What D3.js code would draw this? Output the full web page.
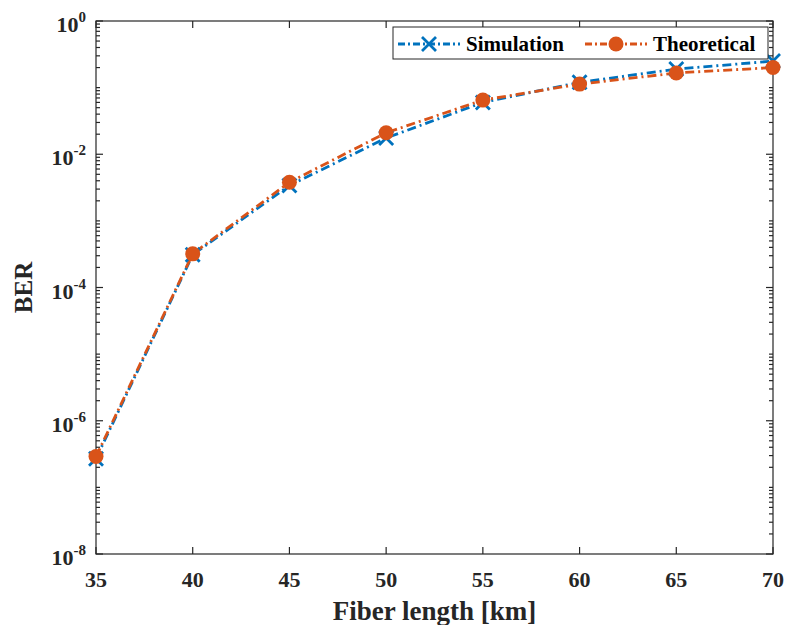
<!DOCTYPE html>
<html>
<head>
<meta charset="utf-8">
<script src="https://cdn.jsdelivr.net/npm/d3@7"></script>
<style>
  html, body { margin: 0; padding: 0; background: #fff; }
  text { font-family: "Liberation Serif", "Times New Roman", "DejaVu Serif", serif; font-weight: bold; }
</style>
</head>
<body>
<svg id="chart" width="788" height="625"></svg>
<script>
// fiber length (km) and BER values
const lengths = [35, 40, 45, 50, 55, 60, 65, 70];
const simulation = [2.7e-7, 3.1e-4, 3.4e-3, 0.0175, 0.060, 0.12, 0.19, 0.25];
const theoretical = [2.9e-7, 3.2e-4, 3.8e-3, 0.021, 0.065, 0.113, 0.166, 0.20];
const xTicks = [35, 40, 45, 50, 55, 60, 65, 70];
const yLabelExps = [0, -2, -4, -6, -8];

const svg = d3.select('#chart');
const margin = { left: 96, right: 15, top: 21, bottom: 71 };
const W = 788, H = 625;
const x0 = margin.left, x1 = W - margin.right, y0 = margin.top, y1 = H - margin.bottom;

const x = d3.scaleLinear().domain([35, 70]).range([x0, x1]);
const y = d3.scaleLog().domain([1e-8, 1]).range([y1, y0]);

const axisColor = '#262626';
const blue = '#0072BD', orange = '#D95319';

// all log ticks (decades + minors)
const logTicks = [];
for (let e = -8; e <= 0; e++) {
  logTicks.push({ v: Math.pow(10, e), major: yLabelExps.includes(e) });
  if (e < 0) for (let m = 2; m <= 9; m++) logTicks.push({ v: m * Math.pow(10, e), major: false });
}

const axes = svg.append('g').attr('stroke', axisColor).attr('stroke-width', 1.2);
axes.append('rect').attr('x', x0).attr('y', y0).attr('width', x1 - x0).attr('height', y1 - y0).attr('fill', 'none');

// y ticks left & right
axes.selectAll('line.yl').data(logTicks).join('line')
  .attr('x1', x0).attr('x2', d => x0 + (d.major ? 7 : 4))
  .attr('y1', d => y(d.v)).attr('y2', d => y(d.v));
axes.selectAll('line.yr').data(logTicks).join('line')
  .attr('x1', x1).attr('x2', d => x1 - (d.major ? 7 : 4))
  .attr('y1', d => y(d.v)).attr('y2', d => y(d.v));

// x ticks bottom & top
axes.selectAll('line.xb').data(xTicks).join('line')
  .attr('x1', d => x(d)).attr('x2', d => x(d))
  .attr('y1', y1).attr('y2', y1 - 7);
axes.selectAll('line.xt').data(xTicks).join('line')
  .attr('x1', d => x(d)).attr('x2', d => x(d))
  .attr('y1', y0).attr('y2', y0 + 7);

// x tick labels
svg.append('g').selectAll('text').data(xTicks).join('text')
  .attr('x', d => x(d)).attr('y', y1 + 33)
  .attr('text-anchor', 'middle')
  .attr('fill', axisColor).attr('font-size', 22)
  .text(d => d);

// y tick labels 10^e
const yl = svg.append('g').selectAll('text').data(yLabelExps).join('text')
  .attr('x', x0 - 10).attr('y', d => y(Math.pow(10, d)) + 11)
  .attr('text-anchor', 'end')
  .attr('fill', axisColor).attr('font-size', 22);
yl.append('tspan').text('10');
yl.append('tspan').attr('dy', -10).attr('font-size', 15).text(d => d);

// axis labels
svg.append('text')
  .attr('x', (x0 + x1) / 2).attr('y', 620)
  .attr('text-anchor', 'middle').attr('fill', axisColor).attr('font-size', 27)
  .text('Fiber length [km]');
svg.append('text')
  .attr('transform', `translate(32,${(y0 + y1) / 2}) rotate(-90)`)
  .attr('text-anchor', 'middle').attr('fill', axisColor).attr('font-size', 25)
  .text('BER');

// series
const line = d3.line().x((d, i) => x(lengths[i])).y(d => y(d));
const dash = '9,4,2,4';

const plot = svg.append('g');
plot.append('path').datum(simulation).attr('d', line)
  .attr('fill', 'none').attr('stroke', blue).attr('stroke-width', 2.8).attr('stroke-dasharray', dash);
plot.append('path').datum(theoretical).attr('d', line)
  .attr('fill', 'none').attr('stroke', orange).attr('stroke-width', 2.8).attr('stroke-dasharray', dash);

function cross(g, cx, cy, s) {
  g.append('path')
    .attr('d', `M${cx - s},${cy - s}L${cx + s},${cy + s}M${cx - s},${cy + s}L${cx + s},${cy - s}`)
    .attr('stroke', blue).attr('stroke-width', 2.8).attr('fill', 'none');
}
simulation.forEach((v, i) => cross(plot, x(lengths[i]), y(v), 7));
plot.selectAll('circle').data(theoretical).join('circle')
  .attr('cx', (d, i) => x(lengths[i])).attr('cy', d => y(d))
  .attr('r', 7.5).attr('fill', orange);

// legend
const lg = svg.append('g');
lg.append('rect').attr('x', 393).attr('y', 27).attr('width', 375).attr('height', 32)
  .attr('fill', '#fff').attr('stroke', axisColor).attr('stroke-width', 1);
lg.append('line').attr('x1', 398).attr('x2', 460).attr('y1', 44).attr('y2', 44)
  .attr('stroke', blue).attr('stroke-width', 2.8).attr('stroke-dasharray', '7,3,2,3');
cross(lg, 429, 44, 7);
lg.append('text').attr('x', 466).attr('y', 51).attr('font-size', 21).attr('fill', '#000').text('Simulation');
lg.append('line').attr('x1', 585).attr('x2', 647).attr('y1', 44).attr('y2', 44)
  .attr('stroke', orange).attr('stroke-width', 2.8).attr('stroke-dasharray', '7,3,2,3');
lg.append('circle').attr('cx', 616).attr('cy', 44).attr('r', 7.5).attr('fill', orange);
lg.append('text').attr('x', 653).attr('y', 51).attr('font-size', 21).attr('fill', '#000').text('Theoretical');
</script>
</body>
</html>
